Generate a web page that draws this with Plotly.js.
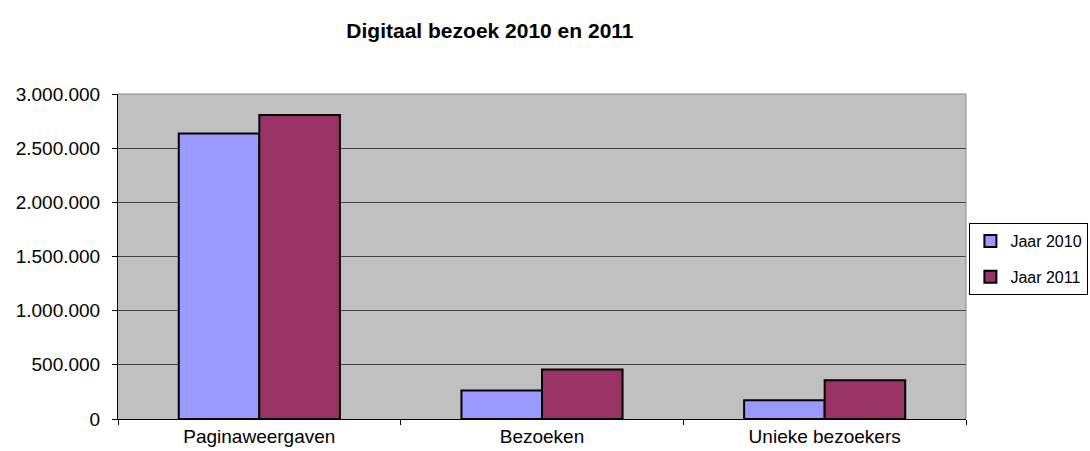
<!DOCTYPE html>
<html>
<head>
<meta charset="utf-8">
<script src="https://cdn.plot.ly/plotly-3.0.1.min.js"></script>
<style>html,body{margin:0;padding:0;background:#fff;}#chart{width:1090px;height:451px;}</style>
</head>
<body>
<div id="chart"></div>
<script>
const categories = ["Paginaweergaven", "Bezoeken", "Unieke bezoekers"];
const jaar2010 = [2635000, 262000, 172000];
const jaar2011 = [2806000, 456000, 357000];
const seriesNames = ["Jaar 2010", "Jaar 2011"];
const yTicks = [0, 500000, 1000000, 1500000, 2000000, 2500000, 3000000];

const font = "Liberation Sans, Arial, sans-serif";
const traces = [
  {type: "bar", name: seriesNames[0], x: categories, y: jaar2010, legendgroup: "a",
   marker: {color: "#9999FF", line: {color: "#000000", width: 2}}},
  {type: "bar", name: seriesNames[1], x: categories, y: jaar2011, legendgroup: "b",
   marker: {color: "#993366", line: {color: "#000000", width: 2}}}
];
const layout = {
  width: 1090, height: 451,
  margin: {l: 118, r: 124, t: 94, b: 32, pad: 0, autoexpand: false},
  paper_bgcolor: "#ffffff",
  plot_bgcolor: "#C0C0C0",
  separators: ",.",
  font: {family: font, size: 19, color: "#000000"},
  title: {text: "<b>Digitaal bezoek 2010 en 2011</b>", font: {family: font, size: 21, color: "#000"},
          x: 0.4495, xanchor: "center", y: 0.933, yanchor: "middle"},
  barmode: "group", bargap: 0.43, bargroupgap: 0,
  xaxis: {type: "category", tickson: "boundaries", ticks: "outside", ticklen: 5, tickcolor: "#000",
          showline: true, linecolor: "#000", linewidth: 1, showgrid: false,
          tickfont: {family: font, size: 19}},
  yaxis: {range: [0, 3000000], tickvals: yTicks, tickformat: ",d", ticks: "outside", ticklen: 5,
          tickcolor: "#000", showline: true, linecolor: "#000", linewidth: 1,
          showgrid: true, gridcolor: "#444444", gridwidth: 1, zeroline: false,
          ticklabelstandoff: 8, tickfont: {family: font, size: 19}},
  legend: {x: 1.004, xanchor: "left", y: 0.603, yanchor: "top", bgcolor: "#ffffff",
           bordercolor: "#000000", borderwidth: 1, traceorder: "grouped", tracegroupgap: 12,
           itemwidth: 30, font: {family: font, size: 16}},
  shapes: [
    {type: "line", xref: "paper", yref: "paper", x0: 1, x1: 1, y0: 0, y1: 1, line: {color: "#888888", width: 1}},
    {type: "line", xref: "paper", yref: "paper", x0: 0, x1: 1, y0: 1, y1: 1, line: {color: "#888888", width: 1}}
  ]
};
Plotly.newPlot("chart", traces, layout, {displayModeBar: false, staticPlot: true});
</script>
</body>
</html>
